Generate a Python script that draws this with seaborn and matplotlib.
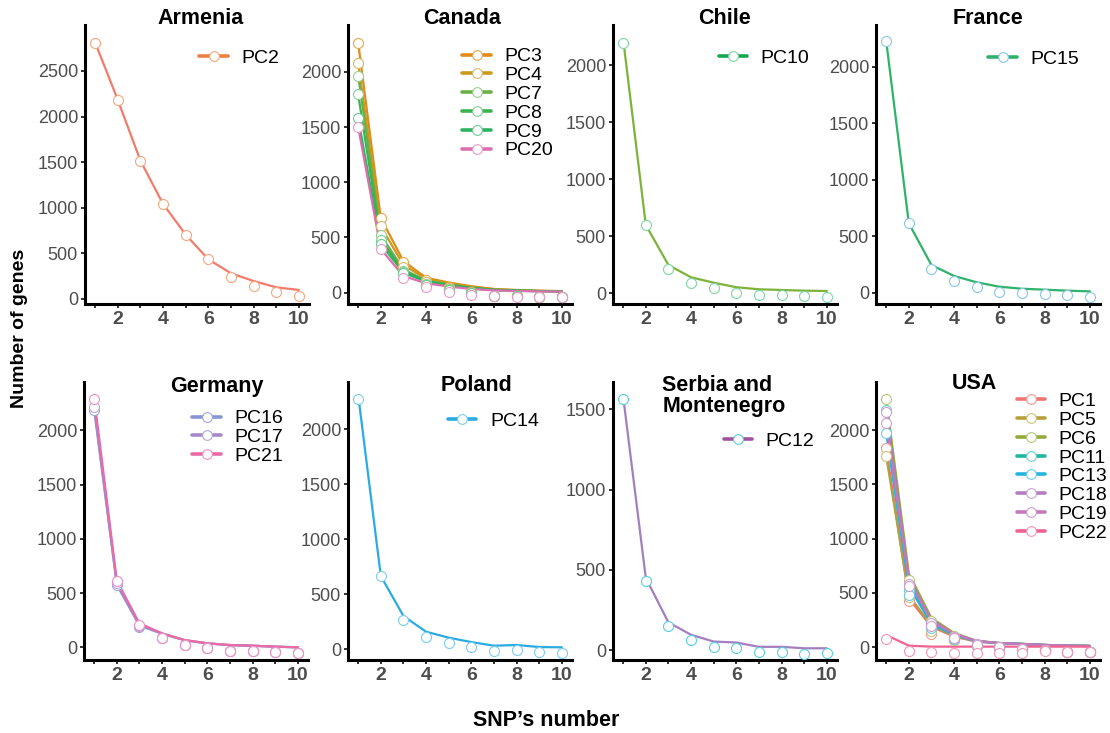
import matplotlib
matplotlib.use("Agg")
import matplotlib.pyplot as plt
import pandas as pd
import seaborn as sns
from matplotlib.lines import Line2D

sns.set_theme(style="white")
plt.rcParams['font.family'] = ['Liberation Sans', 'DejaVu Sans']
plt.rcParams['text.color'] = 'black'

# SNP's number on the x axis
snp = [1, 2, 3, 4, 5, 6, 7, 8, 9, 10]

# line values (per PC) and point values (per PC)
pc1_line = [1832, 450, 190, 98, 52, 37, 30, 21, 15, 12]
pc1_pts = [1832, 429, 122, 67, 12, -3, -18, -25, -43, -43]
pc2_line = [2810, 2182, 1516, 1042, 705, 435, 282, 197, 128, 99]
pc2_pts = [2810, 2182, 1516, 1042, 705, 435, 238, 146, 77, 33]
pc3_line = [2264, 676, 285, 135, 92, 58, 33, 24, 17, 14]
pc3_pts = [2264, 676, 280, 115, 50, 8, -28, -32, -39, -39]
pc4_line = [2085, 600, 250, 125, 85, 52, 30, 22, 16, 13]
pc4_pts = [2085, 600, 235, 100, 45, 5, -30, -33, -38, -40]
pc5_line = [1761, 480, 200, 105, 55, 38, 30, 21, 15, 12]
pc5_pts = [1761, 460, 150, 70, 15, 1, -18, -25, -43, -43]
pc6_line = [2287, 680, 270, 132, 60, 40, 32, 22, 16, 13]
pc6_pts = [2287, 620, 240, 100, 30, 0, -18, -25, -43, -43]
pc7_line = [1967, 520, 210, 110, 75, 45, 27, 20, 15, 12]
pc7_pts = [1967, 520, 200, 75, 30, 0, -30, -34, -39, -40]
pc8_line = [1797, 480, 195, 105, 70, 42, 25, 18, 14, 11]
pc8_pts = [1797, 480, 190, 70, 25, -2, -30, -35, -40, -40]
pc9_line = [1582, 440, 180, 100, 65, 40, 24, 17, 13, 10]
pc9_pts = [1582, 440, 175, 65, 20, -5, -30, -35, -40, -41]
pc10_line = [2228, 599, 248, 140, 93, 53, 35, 29, 23, 20]
pc10_pts = [2198, 599, 210, 93, 44, 5, -15, -18, -24, -30]
pc11_line = [2186, 600, 230, 118, 56, 38, 31, 21, 15, 12]
pc11_pts = [2186, 528, 190, 80, 20, -2, -18, -25, -43, -43]
pc12_line = [1579, 450, 173, 96, 54, 48, 21, 21, 12, 12]
pc12_pts = [1565, 433, 148, 62, 21, 16, -13, -11, -21, -15]
pc13_line = [1976, 560, 215, 112, 55, 38, 30, 21, 15, 12]
pc13_pts = [1976, 482, 175, 75, 18, 0, -18, -25, -43, -43]
pc14_line = [2312, 666, 303, 160, 106, 66, 33, 39, 21, 18]
pc14_pts = [2275, 666, 266, 115, 60, 18, -12, -6, -24, -30]
pc15_line = [2230, 614, 245, 148, 92, 53, 35, 27, 18, 12]
pc15_pts = [2230, 614, 207, 104, 53, 9, -5, -14, -23, -35]
pc16_line = [2189, 575, 200, 125, 65, 36, 20, 14, 6, 0]
pc16_pts = [2189, 575, 184, 83, 21, -9, -31, -34, -43, -50]
pc17_line = [2214, 590, 212, 127, 66, 37, 21, 15, 6, 0]
pc17_pts = [2214, 590, 195, 85, 22, -8, -31, -34, -43, -50]
pc18_line = [2170, 640, 250, 125, 58, 39, 31, 22, 16, 12]
pc18_pts = [2170, 583, 221, 92, 28, 2, -18, -25, -43, -43]
pc19_line = [2068, 620, 240, 120, 57, 38, 30, 21, 15, 12]
pc19_pts = [2068, 560, 200, 85, 25, 0, -18, -25, -43, -43]
pc20_line = [1500, 395, 150, 85, 55, 33, 20, 15, 11, 9]
pc20_pts = [1500, 395, 136, 52, 10, -20, -30, -36, -40, -41]
pc21_line = [2300, 614, 221, 129, 67, 37, 21, 15, 6, 0]
pc21_pts = [2290, 614, 206, 83, 21, -9, -31, -34, -43, -50]
pc22_line = [113, 15, 6, 6, 6, 6, 6, 6, 6, 6]
pc22_pts = [74, -34, -43, -50, -50, -50, -50, -30, -43, -43]

lines = {'PC1': pc1_line, 'PC2': pc2_line, 'PC3': pc3_line, 'PC4': pc4_line,
         'PC5': pc5_line, 'PC6': pc6_line, 'PC7': pc7_line, 'PC8': pc8_line,
         'PC9': pc9_line, 'PC10': pc10_line, 'PC11': pc11_line, 'PC12': pc12_line,
         'PC13': pc13_line, 'PC14': pc14_line, 'PC15': pc15_line, 'PC16': pc16_line,
         'PC17': pc17_line, 'PC18': pc18_line, 'PC19': pc19_line, 'PC20': pc20_line,
         'PC21': pc21_line, 'PC22': pc22_line}
points = {'PC1': pc1_pts, 'PC2': pc2_pts, 'PC3': pc3_pts, 'PC4': pc4_pts,
          'PC5': pc5_pts, 'PC6': pc6_pts, 'PC7': pc7_pts, 'PC8': pc8_pts,
          'PC9': pc9_pts, 'PC10': pc10_pts, 'PC11': pc11_pts, 'PC12': pc12_pts,
          'PC13': pc13_pts, 'PC14': pc14_pts, 'PC15': pc15_pts, 'PC16': pc16_pts,
          'PC17': pc17_pts, 'PC18': pc18_pts, 'PC19': pc19_pts, 'PC20': pc20_pts,
          'PC21': pc21_pts, 'PC22': pc22_pts}

countries = ['Armenia', 'Canada', 'Chile', 'France',
             'Germany', 'Poland', 'Serbia and\nMontenegro', 'USA']
country_pcs = [['PC2'], ['PC3', 'PC4', 'PC7', 'PC8', 'PC9', 'PC20'], ['PC10'], ['PC15'],
               ['PC16', 'PC17', 'PC21'], ['PC14'], ['PC12'],
               ['PC1', 'PC5', 'PC6', 'PC11', 'PC13', 'PC18', 'PC19', 'PC22']]
y_ticks = [[0, 500, 1000, 1500, 2000, 2500], [0, 500, 1000, 1500, 2000],
           [0, 500, 1000, 1500, 2000], [0, 500, 1000, 1500, 2000],
           [0, 500, 1000, 1500, 2000], [0, 500, 1000, 1500, 2000],
           [0, 500, 1000, 1500], [0, 500, 1000, 1500, 2000]]

# colours
line_col = {'PC1': '#F07470', 'PC2': '#F37B6B', 'PC3': '#E08B1A', 'PC4': '#C99A1E',
            'PC5': '#B5A03A', 'PC6': '#93AA3A', 'PC7': '#6AB04A', 'PC8': '#3DB24F',
            'PC9': '#2EB35F', 'PC10': '#7DB33A', 'PC11': '#1CB8A0', 'PC12': '#A47FBF',
            'PC13': '#22B5E0', 'PC14': '#2AABE2', 'PC15': '#2FB36A', 'PC16': '#8895D0',
            'PC17': '#A38BCB', 'PC18': '#B37DC0', 'PC19': '#C27AB8', 'PC20': '#DB6FB0',
            'PC21': '#EB6AA6', 'PC22': '#F0628F'}
legend_col = dict(line_col, PC2='#EE8040', PC10='#14A650', PC12='#A0529E')
pt_col = {'PC1': '#F49A94', 'PC2': '#F4A77D', 'PC3': '#E6A84A', 'PC4': '#D6BA6A',
          'PC5': '#CEC47A', 'PC6': '#B4C97A', 'PC7': '#98D08B', 'PC8': '#7FCF95',
          'PC9': '#6CCB95', 'PC10': '#7ED5A5', 'PC11': '#6FD3C4', 'PC12': '#55D0DF',
          'PC13': '#6DCDEE', 'PC14': '#7CCDEF', 'PC15': '#88C6E8', 'PC16': '#9EA7DC',
          'PC17': '#B7A5DA', 'PC18': '#C9A2D5', 'PC19': '#D39CCB', 'PC20': '#E99AC8',
          'PC21': '#F08FC0', 'PC22': '#F495B6'}

# layout (pixels of a 1110x733 canvas)
lefts = [85, 348, 613, 876, 84, 348, 613, 876]
bottoms = [304, 304, 304, 304, 660, 660, 660, 660]
heights = [279, 279, 279, 279, 278, 278, 278, 278]
ylims = [(-55, 3004), (-103, 2425), (-94, 2354), (-100, 2369),
         (-117, 2447), (-97, 2430), (-61, 1671), (-117, 2443)]
title_pos = [(0.514, 1.022), (0.509, 1.022), (0.497, 1.022), (0.502, 1.022),
             (0.594, 0.983), (0.573, 0.986), (0.22, 0.948), (0.437, 0.996)]
legend_pos = [(0.511, 0.912), (0.511, 0.918), (0.472, 0.912), (0.502, 0.908),
              (0.484, 0.900), (0.447, 0.890), (0.495, 0.818), (0.628, 0.962)]

rows = []
for pc in lines:
    for s, lv, pv in zip(snp, lines[pc], points[pc]):
        rows.append({'pc': pc, 'snp': s, 'line': lv, 'pts': pv})
df = pd.DataFrame(rows)

W, H = 1110, 733
fig = plt.figure(figsize=(W / 100, H / 100), dpi=100)

for i, name in enumerate(countries):
    ax = fig.add_axes([lefts[i] / W, (H - bottoms[i]) / H, 224 / W, heights[i] / H])
    pcs = country_pcs[i]
    sub = df[df['pc'].isin(pcs)]
    sns.lineplot(data=sub, x='snp', y='line', hue='pc', hue_order=pcs,
                 palette=line_col, linewidth=1.6, legend=False, ax=ax)
    for pc in pcs:
        d = sub[sub['pc'] == pc]
        sns.scatterplot(x=d['snp'], y=d['pts'], color='white', edgecolor=pt_col[pc],
                        linewidth=0.8, s=52, zorder=3, ax=ax)

    ax.set_xlim(0.55, 10.45)
    ax.set_ylim(*ylims[i])
    ax.set_xticks(snp)
    ax.set_xticklabels([str(s) if s % 2 == 0 else '' for s in snp],
                       fontsize=14, fontweight='bold', color='#4D4D4D')
    ax.set_yticks(y_ticks[i])
    ax.set_yticklabels([str(t) for t in y_ticks[i]], fontsize=13, color='#4D4D4D')
    ax.tick_params(axis='both', length=3, width=1.4, color='#333333', pad=2, bottom=True, left=True)
    ax.set_xlabel('')
    ax.set_ylabel('')
    sns.despine(ax=ax)
    for sp in ['left', 'bottom']:
        ax.spines[sp].set_linewidth(2.2)
        ax.spines[sp].set_color('black')
    ax.patch.set_alpha(0)

    if '\n' in name:
        ax.text(title_pos[i][0], title_pos[i][1], name, transform=ax.transAxes,
                ha='left', va='center', fontsize=15.5, fontweight='bold', linespacing=1.0,
                color='black')
    else:
        ax.text(title_pos[i][0], title_pos[i][1], name, transform=ax.transAxes,
                ha='center', va='center', fontsize=15.5, fontweight='bold', color='black')

    handles = [Line2D([0], [0], color=legend_col[pc], lw=2.6, marker='o', markersize=7,
                      markerfacecolor='white', markeredgecolor=pt_col[pc],
                      markeredgewidth=0.8) for pc in pcs]
    leg = ax.legend(handles, pcs, loc='upper left', bbox_to_anchor=legend_pos[i],
                    frameon=False, fontsize=14, handlelength=1.45, handletextpad=0.7,
                    labelspacing=0.06, borderpad=0, borderaxespad=0)
    for t in leg.get_texts():
        t.set_color('black')

fig.text(20 / W, 1 - 328 / H, 'Number of genes', rotation=90, ha='center', va='center',
         fontsize=14, fontweight='bold', color='black')
fig.text(546 / W, 1 - 720 / H, 'SNP\u2019s number', ha='center', va='center',
         fontsize=15.5, fontweight='bold', color='black')

fig.savefig('out.png', dpi=100)
